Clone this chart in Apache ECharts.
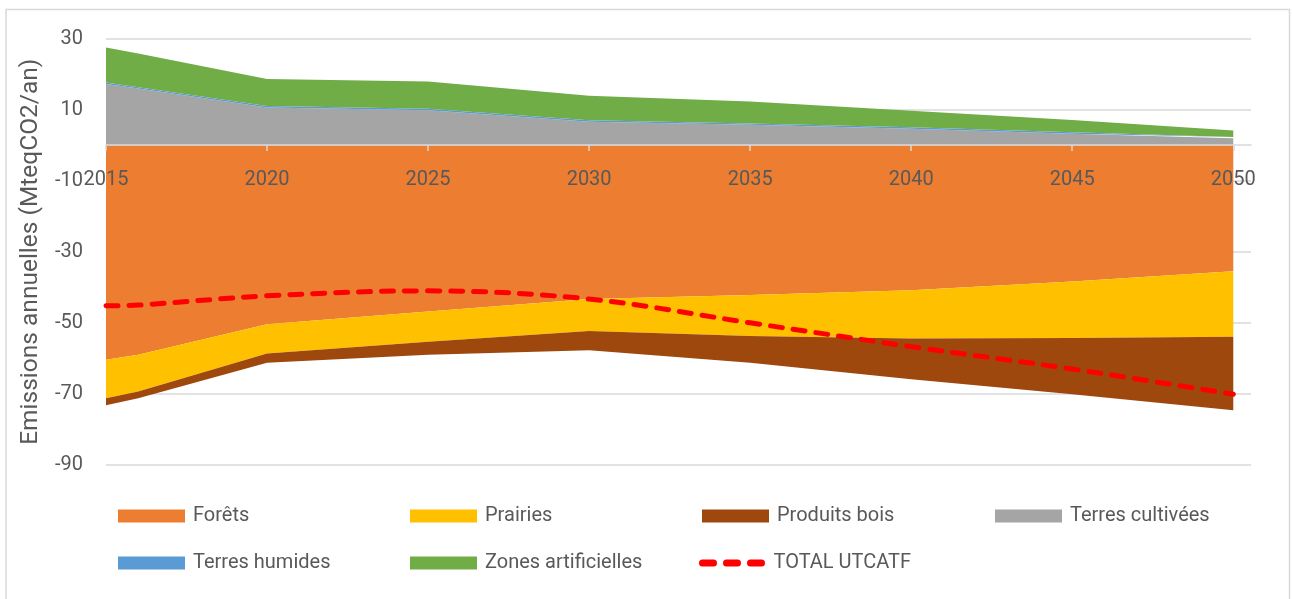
<!DOCTYPE html>
<html style="height: 100%">
   <head>
       <meta charset="utf-8">
       <script src="https://cdn.jsdelivr.net/npm/echarts@6/dist/echarts.min.js"></script>
   </head>
   <body style="height: 100%; margin: 0; background: #fff">
       <div id="container" style="height: 599px; width: 1292px"></div>
       <script type="text/javascript">

// years with a data point
var years = [2015, 2016, 2020, 2025, 2030, 2035, 2040, 2045, 2050];
var xTicks = [2015, 2020, 2025, 2030, 2035, 2040, 2045, 2050];

// emissions, MteqCO2/an
var forets       = [-60.4, -59.0, -50.4, -46.8, -43.3, -42.2, -40.8, -38.4, -35.5];
var prairies     = [-10.8, -10.3, -8.2, -8.5, -9.0, -11.5, -13.6, -15.9, -18.4];
var produitsBois = [-2.0, -1.9, -2.6, -3.7, -5.4, -7.5, -11.5, -15.8, -20.7];
var terresCult   = [17.2, 15.9, 10.6, 9.8, 6.6, 5.7, 4.6, 3.2, 1.9];
var terresHum    = [0.4, 0.4, 0.4, 0.4, 0.4, 0.4, 0.4, 0.4, 0.4];
var zonesArtif   = [9.9, 9.5, 7.6, 7.7, 6.9, 6.2, 4.7, 3.5, 1.8];
var total        = [-45.2, -45.0, -42.4, -41.0, -43.3, -50.0, -56.7, -63.0, -70.1];

var names = ['Forêts', 'Prairies', 'Produits bois', 'Terres cultivées',
             'Terres humides', 'Zones artificielles', 'TOTAL UTCATF'];
var colors = ['#ED7D31', '#FFC000', '#9E480E', '#A5A5A5', '#5B9BD5', '#70AD47', '#FF0000'];

// value first so the stack is done on the value, not on the year
function pairs(vals) {
  return vals.map(function (v, i) { return [v, years[i]]; });
}

function areaSeries(name, vals, idx) {
  return {
    name: name,
    type: 'line',
    stack: 'all',
    dimensions: ['v', 'year'],
    encode: { x: 'year', y: 'v' },
    data: pairs(vals),
    symbol: 'none',
    lineStyle: { width: 0, color: colors[idx] },
    itemStyle: { color: colors[idx] },
    areaStyle: { color: colors[idx], opacity: 1 },
    z: 2
  };
}

// three round dashes for the total line in the legend
var dashIcon = 'path://M3.5,0h11a3.5,3.5 0 0 1 0,7h-11a3.5,3.5 0 0 1 0,-7z' +
  'M27.5,0h11a3.5,3.5 0 0 1 0,7h-11a3.5,3.5 0 0 1 0,-7z' +
  'M51.5,0h11a3.5,3.5 0 0 1 0,7h-11a3.5,3.5 0 0 1 0,-7z';

// legend laid out as a grid, one legend per entry
var legendPos = [[118, 506], [410, 506], [702, 506], [995, 506],
                 [118, 553], [410, 553], [699, 553]];
var legends = names.map(function (n, i) {
  return {
    data: [n],
    left: legendPos[i][0],
    top: legendPos[i][1],
    padding: 0,
    icon: i == 6 ? dashIcon : 'rect',
    itemWidth: 67,
    itemHeight: i == 6 ? 7 : 13,
    selectedMode: false,
    textStyle: { fontFamily: 'Roboto', fontSize: 20, color: '#595959', padding: [0, 0, 0, 3] }
  };
});

var dom = document.getElementById("container");
var myChart = echarts.init(dom, null, { renderer: 'canvas' });

var option = {
  animation: false,
  backgroundColor: '#fff',
  textStyle: { fontFamily: 'Roboto' },
  graphic: [{
    type: 'rect',
    shape: { x: 6, y: 9.5, width: 1283.5, height: 620 },
    style: { fill: 'none', stroke: '#d9d9d9', lineWidth: 1.5 },
    silent: true
  }],
  grid: { left: 106, right: 41, top: 38.5, bottom: 134 },
  legend: legends,
  xAxis: {
    type: 'value',
    min: 2015,
    max: 2050.55,
    interval: 5,
    z: 10,
    // move the axis up to the zero line
    offset: -320,
    splitLine: { show: false },
    axisLine: { onZero: false, lineStyle: { color: '#d9d9d9', width: 1.5 } },
    axisTick: { show: true, customValues: xTicks, length: 6, lineStyle: { color: '#d9d9d9', width: 1.5 } },
    axisLabel: {
      customValues: xTicks,
      formatter: function (v) { return String(v); },
      margin: 25,
      fontSize: 20,
      color: '#595959',
      fontFamily: 'Roboto'
    }
  },
  yAxis: {
    type: 'value',
    min: -90,
    max: 30,
    interval: 20,
    name: 'Emissions annuelles (MteqCO2/an)',
    nameLocation: 'middle',
    nameGap: 63,
    nameTextStyle: { fontSize: 24.5, color: '#595959', fontFamily: 'Roboto' },
    axisLine: { show: false, onZero: false },
    axisTick: { show: false },
    axisLabel: { margin: 23, fontSize: 20, color: '#595959', fontFamily: 'Roboto' },
    splitLine: { lineStyle: { color: '#d9d9d9', width: 1.5 } }
  },
  series: [
    areaSeries(names[0], forets, 0),
    areaSeries(names[1], prairies, 1),
    areaSeries(names[2], produitsBois, 2),
    areaSeries(names[3], terresCult, 3),
    areaSeries(names[4], terresHum, 4),
    areaSeries(names[5], zonesArtif, 5),
    {
      name: names[6],
      type: 'line',
      dimensions: ['v', 'year'],
      encode: { x: 'year', y: 'v' },
      data: pairs(total),
      smooth: 0.35,
      symbol: 'none',
      itemStyle: { color: colors[6] },
      lineStyle: { color: colors[6], width: 5, type: [12, 11], cap: 'round' },
      z: 5
    }
  ]
};

myChart.setOption(option);

       </script>
   </body>
</html>
